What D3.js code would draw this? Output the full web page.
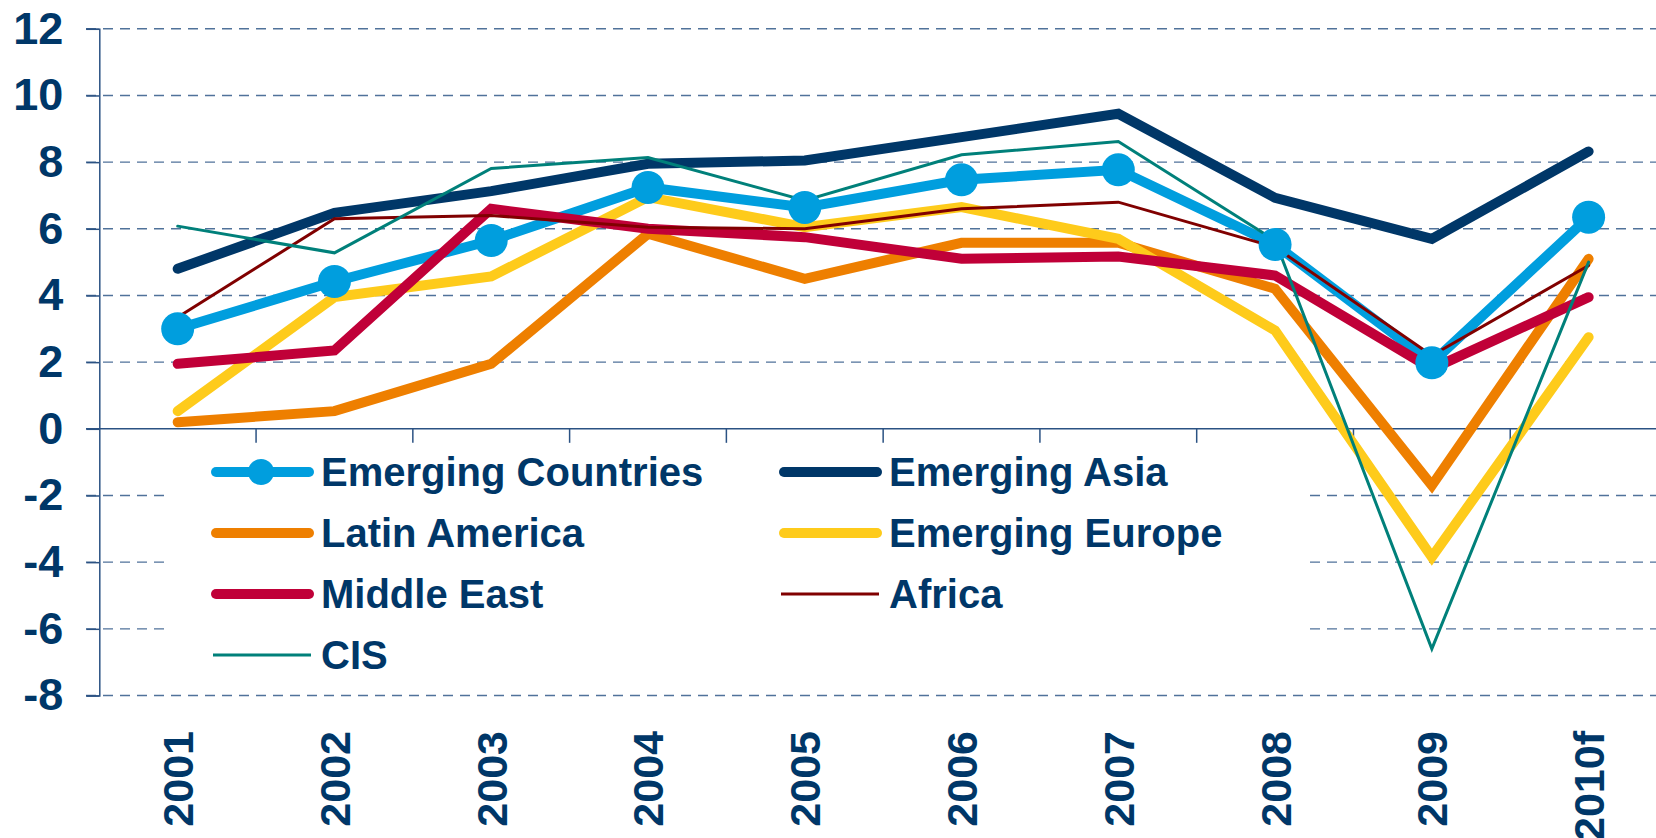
<!DOCTYPE html>
<html>
<head>
<meta charset="utf-8">
<script src="https://cdn.jsdelivr.net/npm/d3@7"></script>
<style>
  body { margin: 0; background: #fff; }
  svg { display: block; font-family: "Liberation Sans", Arial, sans-serif; font-weight: bold; }
</style>
</head>
<body>
<div id="chart"></div>
<script>
// data
var years = ['2001', '2002', '2003', '2004', '2005', '2006', '2007', '2008', '2009', '2010f'];
var yTicks = [-8, -6, -4, -2, 0, 2, 4, 6, 8, 10, 12];

var emergingCountries = [3.0, 4.42, 5.65, 7.24, 6.64, 7.47, 7.77, 5.53, 1.98, 6.35];
var emergingAsia      = [4.8, 6.48, 7.13, 7.95, 8.05, 8.75, 9.45, 6.93, 5.7, 8.32];
var latinAmerica      = [0.2, 0.53, 1.95, 5.85, 4.5, 5.58, 5.58, 4.2, -1.7, 5.1];
var emergingEurope    = [0.53, 3.95, 4.57, 6.95, 6.05, 6.65, 5.7, 2.95, -3.85, 2.75];
var middleEast        = [1.95, 2.35, 6.6, 6.0, 5.75, 5.1, 5.17, 4.6, 1.8, 3.95];
var africa            = [3.35, 6.3, 6.4, 6.05, 6.0, 6.6, 6.8, 5.45, 2.2, 4.9];
var cis               = [6.08, 5.28, 7.81, 8.14, 6.85, 8.22, 8.62, 5.65, -6.6, 5.0];

var series = [
  { name: 'Emerging Countries', values: emergingCountries, color: '#009ede', width: 10, marker: true },
  { name: 'Emerging Asia',      values: emergingAsia,      color: '#003768', width: 10 },
  { name: 'Latin America',      values: latinAmerica,      color: '#ee7f00', width: 10 },
  { name: 'Emerging Europe',    values: emergingEurope,    color: '#fecb1b', width: 10 },
  { name: 'Middle East',        values: middleEast,        color: '#c00038', width: 10 },
  { name: 'Africa',             values: africa,            color: '#800000', width: 3 },
  { name: 'CIS',                values: cis,               color: '#00807a', width: 3 }
];

var width = 1656, height = 838;
var textColor = '#003768';
var axisColor = '#2b5283';
var gridColor = '#50729a';

var svg = d3.select('#chart').append('svg')
  .attr('width', width).attr('height', height);

svg.append('rect').attr('width', width).attr('height', height).attr('fill', '#fff');

var x = d3.scaleBand().domain(years).range([99.3, 1667]);
var y = d3.scaleLinear().domain([-8, 12]).range([695.5, 28.8]);
var cx = function (d, i) { return x(years[i]) + x.bandwidth() / 2; };

// dashed gridlines
svg.append('g').selectAll('line')
  .data(yTicks.filter(function (d) { return d !== 0; }))
  .enter().append('line')
  .attr('x1', 86).attr('x2', width)
  .attr('y1', function (d) { return y(d); })
  .attr('y2', function (d) { return y(d); })
  .attr('stroke', gridColor)
  .attr('stroke-width', 1.4)
  .attr('stroke-dasharray', '10,7');

// y axis (plain hyphen for negatives, like the original)
var yAxis = svg.append('g')
  .attr('transform', 'translate(99.3,0)')
  .call(d3.axisLeft(y).tickValues(yTicks).tickSize(13).tickPadding(23)
    .tickFormat(function (d) { return String(d); }));
yAxis.select('.domain').attr('stroke', axisColor).attr('stroke-width', 1.5);
yAxis.selectAll('.tick line').attr('stroke', axisColor).attr('stroke-width', 1.5);
yAxis.selectAll('.tick text')
  .attr('fill', textColor)
  .style('font-size', '45px')
  .style('font-family', '"Liberation Sans", Arial, sans-serif')
  .style('font-weight', 'bold');

// x axis line at zero, ticks at category boundaries
svg.append('line')
  .attr('x1', 86).attr('x2', width)
  .attr('y1', y(0)).attr('y2', y(0))
  .attr('stroke', axisColor).attr('stroke-width', 1.5);

svg.append('g').selectAll('line')
  .data(years.slice(1))
  .enter().append('line')
  .attr('x1', function (d) { return x(d); })
  .attr('x2', function (d) { return x(d); })
  .attr('y1', y(0)).attr('y2', y(0) + 14)
  .attr('stroke', axisColor).attr('stroke-width', 1.5);

svg.append('g').selectAll('text')
  .data(years)
  .enter().append('text')
  .attr('transform', function (d) { return 'translate(' + (x(d) + x.bandwidth() / 2) + ',731) rotate(-90)'; })
  .attr('text-anchor', 'end')
  .attr('dy', '0.36em')
  .attr('fill', textColor)
  .style('font-size', '43px')
  .text(function (d) { return d; });

// legend box (covers the gridlines behind it)
var legend = svg.append('g');
legend.append('rect')
  .attr('x', 167).attr('y', 444)
  .attr('width', 1305 - 167).attr('height', 244)
  .attr('fill', '#fff');

var legendPos = [
  [211, 472], [779, 472],
  [211, 533], [779, 533],
  [211, 594], [779, 594],
  [211, 655]
];

series.forEach(function (s, i) {
  var p = legendPos[i];
  var g = legend.append('g').attr('transform', 'translate(' + p[0] + ',' + p[1] + ')');
  g.append('line')
    .attr('x1', s.width > 5 ? 5 : 2).attr('x2', s.width > 5 ? 98 : 100)
    .attr('stroke', s.color)
    .attr('stroke-width', s.width)
    .attr('stroke-linecap', s.width > 5 ? 'round' : 'butt');
  if (s.marker) {
    g.append('circle').attr('cx', 50).attr('r', 13).attr('fill', s.color);
  }
  g.append('text')
    .attr('x', 110)
    .attr('dy', '0.36em')
    .attr('fill', textColor)
    .style('font-size', '40px')
    .text(s.name);
});

// series lines, in legend order
var line = d3.line()
  .x(cx)
  .y(function (d) { return y(d); });

svg.append('g').selectAll('path')
  .data(series)
  .enter().append('path')
  .attr('d', function (s) { return line(s.values); })
  .attr('fill', 'none')
  .attr('stroke', function (s) { return s.color; })
  .attr('stroke-width', function (s) { return s.width; })
  .attr('stroke-linejoin', 'miter')
  .attr('stroke-linecap', 'round');

// markers on top
series.filter(function (s) { return s.marker; }).forEach(function (s) {
  svg.append('g').selectAll('circle')
    .data(s.values)
    .enter().append('circle')
    .attr('cx', cx)
    .attr('cy', function (d) { return y(d); })
    .attr('r', 16.5)
    .attr('fill', s.color);
});
</script>
</body>
</html>
